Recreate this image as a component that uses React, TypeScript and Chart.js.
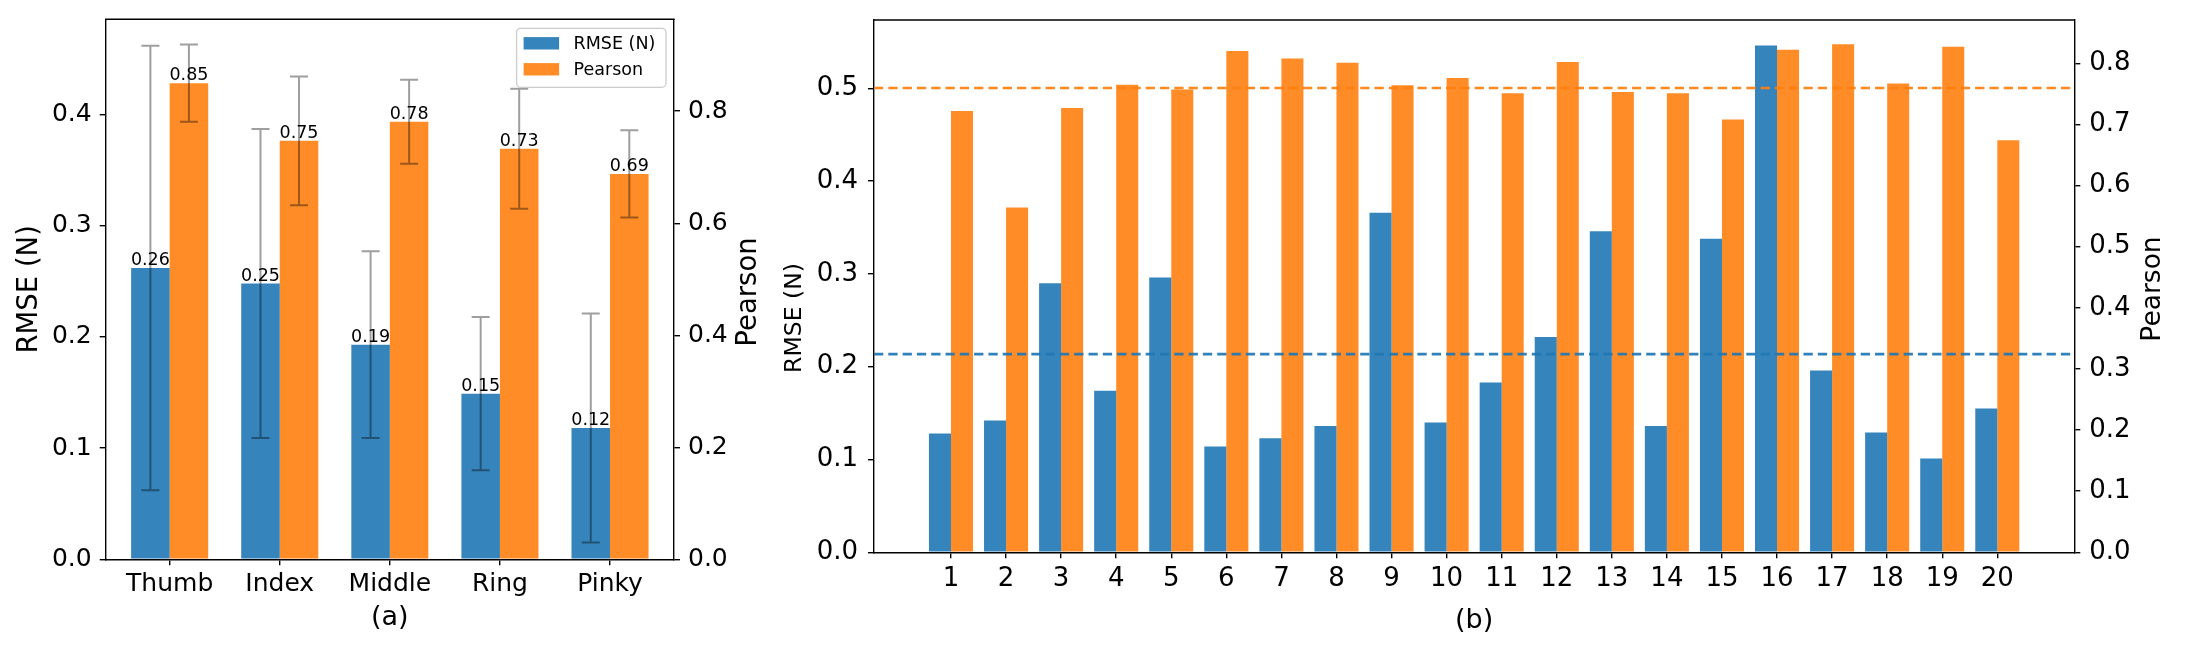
import React, { useEffect, useRef } from 'react';
import { Chart, registerables } from 'chart.js';

Chart.register(...registerables);

// ---------- data ----------
const fingers = ['Thumb', 'Index', 'Middle', 'Ring', 'Pinky'];
const fingerRmse = [0.262, 0.248, 0.193, 0.149, 0.118];
const fingerRmseStd = [0.2, 0.139, 0.084, 0.069, 0.103];
const fingerPearson = [0.85, 0.747, 0.781, 0.733, 0.688];
const fingerPearsonStd = [0.069, 0.115, 0.075, 0.107, 0.078];

const subjects = ['1', '2', '3', '4', '5', '6', '7', '8', '9', '10', '11', '12', '13', '14', '15', '16', '17', '18', '19', '20'];
const subjectRmse = [0.128, 0.142, 0.29, 0.174, 0.296, 0.114, 0.123, 0.136, 0.366, 0.14, 0.183, 0.232, 0.346, 0.136, 0.338, 0.546, 0.196, 0.129, 0.101, 0.155];
const subjectPearson = [0.722, 0.564, 0.727, 0.765, 0.757, 0.82, 0.808, 0.801, 0.764, 0.776, 0.751, 0.802, 0.753, 0.751, 0.708, 0.822, 0.831, 0.767, 0.827, 0.674];

const leftRmseTicks = [0, 0.1, 0.2, 0.3, 0.4];
const leftPearsonTicks = [0, 0.2, 0.4, 0.6, 0.8];
const rightRmseTicks = [0, 0.1, 0.2, 0.3, 0.4, 0.5];
const rightPearsonTicks = [0, 0.1, 0.2, 0.3, 0.4, 0.5, 0.6, 0.7, 0.8];

// ---------- styles ----------
const FONT = "'DejaVu Sans', sans-serif";
const BLUE = 'rgba(31,119,180,0.9)';
const ORANGE = 'rgba(255,127,14,0.9)';
const BLACK = '#000';

const mean = (a: number[]) => a.reduce((s, v) => s + v, 0) / a.length;

function fixedSize(dim: 'width' | 'height', size: number) {
  return (scale: any) => {
    scale[dim] = size;
    scale.paddingTop = 0;
    scale.paddingBottom = 0;
    scale.paddingLeft = 0;
    scale.paddingRight = 0;
  };
}
function setTicks(values: number[]) {
  return (scale: any) => {
    scale.ticks = values.map((v) => ({ value: v }));
  };
}

function gridCfg() {
  return { display: true, drawOnChartArea: false, drawTicks: true, tickLength: 6, color: BLACK, lineWidth: 1.4, offset: false };
}
function borderCfg() {
  return { display: true, color: BLACK, width: 1.4 };
}

const framePlugin = {
  id: 'frameTop',
  afterDraw(chart: any) {
    const { ctx, chartArea } = chart;
    ctx.save();
    ctx.strokeStyle = BLACK;
    ctx.lineWidth = 1.4;
    ctx.beginPath();
    ctx.moveTo(chartArea.left - 0.7, chartArea.top);
    ctx.lineTo(chartArea.right + 0.7, chartArea.top);
    ctx.stroke();
    ctx.restore();
  },
};

function sideTitles(items: { text: string; x: number; y: number; size: number }[]) {
  return {
    id: 'sideTitles',
    afterDraw(chart: any) {
      const { ctx } = chart;
      items.forEach((it) => {
        ctx.save();
        ctx.translate(it.x, it.y);
        ctx.rotate(-Math.PI / 2);
        ctx.font = `${it.size}px ${FONT}`;
        ctx.fillStyle = BLACK;
        ctx.textAlign = 'center';
        ctx.textBaseline = 'middle';
        ctx.fillText(it.text, 0, 0);
        ctx.restore();
      });
    },
  };
}

const errorBarPlugin = {
  id: 'errorBars',
  afterDatasetsDraw(chart: any) {
    const { ctx } = chart;
    ctx.save();
    ctx.strokeStyle = 'rgba(0,0,0,0.38)';
    ctx.lineWidth = 2;
    chart.data.datasets.forEach((ds: any, i: number) => {
      if (!ds.errors) return;
      const meta = chart.getDatasetMeta(i);
      const scale = chart.scales[ds.yAxisID];
      meta.data.forEach((el: any, j: number) => {
        const v = ds.data[j].y;
        const e = ds.errors[j];
        const top = scale.getPixelForValue(v + e);
        const bot = scale.getPixelForValue(v - e);
        const x = el.x;
        ctx.beginPath();
        ctx.moveTo(x, top);
        ctx.lineTo(x, bot);
        ctx.moveTo(x - 9, top);
        ctx.lineTo(x + 9, top);
        ctx.moveTo(x - 9, bot);
        ctx.lineTo(x + 9, bot);
        ctx.stroke();
      });
    });
    ctx.restore();
  },
};

const valueLabelPlugin = {
  id: 'valueLabels',
  afterDatasetsDraw(chart: any) {
    const { ctx } = chart;
    ctx.save();
    ctx.font = `17.5px ${FONT}`;
    ctx.fillStyle = BLACK;
    ctx.textAlign = 'center';
    ctx.textBaseline = 'alphabetic';
    chart.data.datasets.forEach((ds: any, i: number) => {
      if (!ds.errors) return;
      const meta = chart.getDatasetMeta(i);
      meta.data.forEach((el: any, j: number) => {
        ctx.fillText(ds.data[j].y.toFixed(2), el.x, el.y - 3);
      });
    });
    ctx.restore();
  },
};

const legendPlugin = {
  id: 'legendBox',
  afterDraw(chart: any) {
    const { ctx, chartArea } = chart;
    const w = 149.4;
    const h = 59;
    const right = chartArea.right - 8;
    const top = chartArea.top + 9;
    const left = right - w;
    ctx.save();
    ctx.beginPath();
    ctx.roundRect(left, top, w, h, 4);
    ctx.fillStyle = 'rgba(255,255,255,0.8)';
    ctx.fill();
    ctx.strokeStyle = '#cccccc';
    ctx.lineWidth = 1.3;
    ctx.stroke();
    ctx.font = `17.5px ${FONT}`;
    ctx.textBaseline = 'middle';
    ctx.textAlign = 'left';
    chart.data.datasets.forEach((ds: any, i: number) => {
      const cy = top + 15 + i * 26;
      ctx.fillStyle = ds.backgroundColor;
      ctx.fillRect(left + 7, cy - 6.2, 35.5, 12.4);
      ctx.fillStyle = BLACK;
      ctx.fillText(ds.label, left + 57, cy + 0.8);
    });
    ctx.restore();
  },
};

// ---------- left chart ----------
function leftConfig(): any {
  return {
    type: 'bar',
    data: {
      datasets: [
        {
          label: 'RMSE (N)',
          data: fingerRmse.map((v, i) => ({ x: i, y: v })),
          errors: fingerRmseStd,
          backgroundColor: BLUE,
          yAxisID: 'y',
          categoryPercentage: 0.7,
          barPercentage: 1.0,
          borderWidth: 0,
        },
        {
          label: 'Pearson',
          data: fingerPearson.map((v, i) => ({ x: i, y: v })),
          errors: fingerPearsonStd,
          backgroundColor: ORANGE,
          yAxisID: 'y1',
          categoryPercentage: 0.7,
          barPercentage: 1.0,
          borderWidth: 0,
        },
      ],
    },
    options: {
      responsive: false,
      animation: false,
      devicePixelRatio: 1,
      layout: { padding: { top: 19.3, left: 0, right: 0, bottom: 0 } },
      plugins: { legend: { display: false }, tooltip: { enabled: false } },
      scales: {
        x: {
          type: 'linear',
          min: -0.581,
          max: 4.581,
          offset: false,
          bounds: 'data',
          grid: gridCfg(),
          border: borderCfg(),
          ticks: {
            font: { family: FONT, size: 25 },
            color: BLACK,
            padding: 4,
            maxRotation: 0,
            autoSkip: false,
            callback: (v: any) => fingers[v] ?? '',
          },
          title: { display: true, text: '(a)', font: { family: FONT, size: 27 }, color: BLACK, padding: { top: 0, bottom: 15.8 } },
          afterBuildTicks: setTicks(fingers.map((_, i) => i)),
          afterFit: fixedSize('height', 90.7),
        },
        y: {
          type: 'linear',
          position: 'left',
          min: 0,
          max: 0.4857,
          bounds: 'data',
          grid: gridCfg(),
          border: borderCfg(),
          ticks: { font: { family: FONT, size: 25 }, color: BLACK, padding: 8, callback: (v: any) => Number(v).toFixed(1) },
          title: { display: true, text: 'RMSE (N)', font: { family: FONT, size: 27.5 }, color: BLACK, padding: { top: 13.5, bottom: 0 } },
          afterBuildTicks: setTicks(leftRmseTicks),
          afterFit: fixedSize('width', 105.7),
        },
        y1: {
          type: 'linear',
          position: 'right',
          min: 0,
          max: 0.964,
          bounds: 'data',
          grid: gridCfg(),
          border: borderCfg(),
          ticks: { font: { family: FONT, size: 25 }, color: BLACK, padding: 8, callback: (v: any) => Number(v).toFixed(1) },
          afterBuildTicks: setTicks(leftPearsonTicks),
          afterFit: fixedSize('width', 106),
        },
      },
    },
    plugins: [errorBarPlugin, valueLabelPlugin, framePlugin, legendPlugin, sideTitles([{ text: 'Pearson', x: 749.3, y: 292, size: 27.5 }])],
  };
}

// ---------- right chart ----------
const rightXMin = -0.398;
const rightXMax = 21.398;

function rightConfig(): any {
  const rm = mean(subjectRmse);
  const pm = mean(subjectPearson);
  return {
    type: 'bar',
    data: {
      datasets: [
        {
          type: 'line',
          label: 'RMSE mean',
          data: [
            { x: rightXMin, y: rm },
            { x: rightXMax, y: rm },
          ],
          borderColor: 'rgba(31,119,180,0.92)',
          borderWidth: 2.6,
          borderDash: [9.3, 5],
          pointRadius: 0,
          yAxisID: 'y',
          order: 0,
        },
        {
          type: 'line',
          label: 'Pearson mean',
          data: [
            { x: rightXMin, y: pm },
            { x: rightXMax, y: pm },
          ],
          borderColor: 'rgba(255,127,14,0.92)',
          borderWidth: 2.6,
          borderDash: [9.3, 5],
          pointRadius: 0,
          yAxisID: 'y1',
          order: 0,
        },
        {
          label: 'RMSE (N)',
          data: subjectRmse.map((v, i) => ({ x: i + 1, y: v })),
          backgroundColor: BLUE,
          yAxisID: 'y',
          categoryPercentage: 0.8,
          barPercentage: 1.0,
          borderWidth: 0,
          order: 1,
        },
        {
          label: 'Pearson',
          data: subjectPearson.map((v, i) => ({ x: i + 1, y: v })),
          backgroundColor: ORANGE,
          yAxisID: 'y1',
          categoryPercentage: 0.8,
          barPercentage: 1.0,
          borderWidth: 0,
          order: 1,
        },
      ],
    },
    options: {
      responsive: false,
      animation: false,
      devicePixelRatio: 1,
      layout: { padding: { top: 20, left: 0, right: 0, bottom: 0 } },
      plugins: { legend: { display: false }, tooltip: { enabled: false } },
      scales: {
        x: {
          type: 'linear',
          min: rightXMin,
          max: rightXMax,
          offset: false,
          bounds: 'data',
          grid: gridCfg(),
          border: borderCfg(),
          ticks: {
            font: { family: FONT, size: 26 },
            color: BLACK,
            padding: 5.6,
            maxRotation: 0,
            autoSkip: false,
            callback: (v: any) => subjects[v - 1] ?? '',
          },
          title: { display: true, text: '(b)', font: { family: FONT, size: 27 }, color: BLACK, padding: { top: 0, bottom: 12.8 } },
          afterBuildTicks: setTicks(subjects.map((_, i) => i + 1)),
          afterFit: fixedSize('height', 97.7),
        },
        y: {
          type: 'linear',
          position: 'left',
          min: 0,
          max: 0.5736,
          bounds: 'data',
          grid: gridCfg(),
          border: borderCfg(),
          ticks: { font: { family: FONT, size: 26 }, color: BLACK, padding: 10, callback: (v: any) => Number(v).toFixed(1) },
          afterBuildTicks: setTicks(rightRmseTicks),
          afterFit: fixedSize('width', 104),
        },
        y1: {
          type: 'linear',
          position: 'right',
          min: 0,
          max: 0.8708,
          bounds: 'data',
          grid: gridCfg(),
          border: borderCfg(),
          ticks: { font: { family: FONT, size: 26 }, color: BLACK, padding: 9, callback: (v: any) => Number(v).toFixed(1) },
          afterBuildTicks: setTicks(rightPearsonTicks),
          afterFit: fixedSize('width', 115.7),
        },
      },
    },
    plugins: [
      framePlugin,
      sideTitles([
        { text: 'RMSE (N)', x: 24.7, y: 318, size: 23.5 },
        { text: 'Pearson', x: 1383.5, y: 289, size: 26.5 },
      ]),
    ],
  };
}

export default function App() {
  const leftRef = useRef<HTMLCanvasElement>(null);
  const rightRef = useRef<HTMLCanvasElement>(null);

  useEffect(() => {
    document.body.style.margin = '0';
    const c1 = new Chart(leftRef.current as HTMLCanvasElement, leftConfig());
    const c2 = new Chart(rightRef.current as HTMLCanvasElement, rightConfig());
    return () => {
      c1.destroy();
      c2.destroy();
    };
  }, []);

  return (
    <div style={{ position: 'relative', width: 2190, height: 650, background: '#fff' }}>
      <canvas ref={leftRef} width={780} height={650} style={{ position: 'absolute', left: 0, top: 0 }} />
      <canvas ref={rightRef} width={1420} height={650} style={{ position: 'absolute', left: 770, top: 0 }} />
    </div>
  );
}
